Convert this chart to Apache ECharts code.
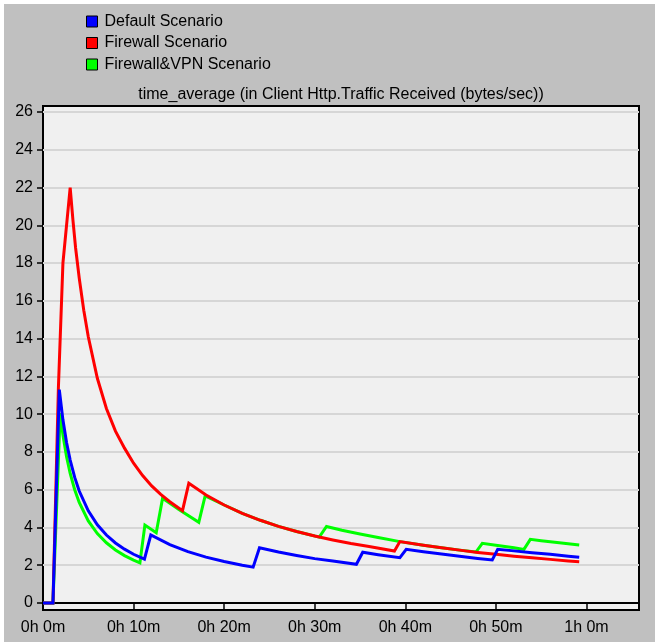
<!DOCTYPE html>
<html>
<head>
<meta charset="utf-8">
<script src="https://cdn.jsdelivr.net/npm/echarts@6/dist/echarts.min.js"></script>
<style>
  html, body { margin: 0; padding: 0; background: #ffffff; }
  #chart { width: 655px; height: 642px; }
</style>
</head>
<body>
<div id="chart"></div>
<script>
// ---- data (x in minutes, y in bytes/sec) ----
const seriesNames = ['Default Scenario', 'Firewall Scenario', 'Firewall&VPN Scenario'];
const seriesColors = ['#0000ff', '#ff0000', '#00ff00'];

const defaultScenario = [
  [0, 0], [1.1, 0], [1.8, 11.3], [2.2, 9.7], [2.6, 8.5], [3.0, 7.57], [3.5, 6.65], [4.0, 5.93],
  [5.0, 4.88], [6.0, 4.14], [7.0, 3.6], [8.0, 3.18], [9.0, 2.85], [10.0, 2.58], [11.2, 2.32],
  [11.9, 3.6], [14, 3.09], [16, 2.72], [18, 2.43], [20, 2.2], [22, 2.0], [23.2, 1.9],
  [23.9, 2.93], [26, 2.7], [28, 2.52], [30, 2.35], [32, 2.22], [34.6, 2.05],
  [35.3, 2.69], [37, 2.56], [39.4, 2.4],
  [40.1, 2.84], [42, 2.71], [44, 2.59], [46, 2.48], [48, 2.36], [49.6, 2.28],
  [50.2, 2.84], [52, 2.76], [54, 2.66], [56, 2.58], [58, 2.48], [59.2, 2.42]
];

const firewallScenario = [
  [0, 0], [1.1, 0], [1.7, 11.4], [2.2, 18.0], [3.0, 22.0], [3.3, 20.3], [3.6, 18.8], [4.0, 17.2],
  [4.5, 15.5], [5.0, 14.1], [6.0, 11.9], [7.0, 10.3], [8.0, 9.1], [9.0, 8.2], [10, 7.4],
  [11, 6.75], [12, 6.2], [13, 5.75], [14, 5.36], [15.4, 4.89],
  [16.1, 6.34], [18, 5.72], [20, 5.19], [22, 4.75], [24, 4.38], [26, 4.06], [28, 3.79],
  [30, 3.55], [32, 3.34], [34, 3.15], [36, 2.99], [38.8, 2.75],
  [39.4, 3.25], [42, 3.06], [44, 2.93], [46, 2.8], [48, 2.68], [50, 2.58], [52, 2.48],
  [54, 2.39], [56, 2.31], [58, 2.23], [59.2, 2.19]
];

const firewallVpnScenario = [
  [0, 0], [1.1, 0], [1.9, 10.05], [2.2, 8.9], [2.6, 7.75], [3.0, 6.86], [3.5, 6.0], [4.0, 5.32],
  [5.0, 4.35], [6.0, 3.68], [7.0, 3.19], [8.0, 2.81], [9.0, 2.51], [10.0, 2.27], [10.7, 2.13],
  [11.25, 4.13], [12.5, 3.72],
  [13.2, 5.54], [15, 4.95], [17.2, 4.27],
  [17.9, 5.67], [20, 5.19], [22, 4.75], [24, 4.38], [26, 4.06], [28, 3.79], [30.5, 3.49],
  [31.3, 4.05], [33, 3.85], [35, 3.65], [37, 3.47], [39.4, 3.25], [42, 3.06], [44, 2.93],
  [46, 2.8], [47.8, 2.7],
  [48.5, 3.16], [50, 3.06], [52, 2.92], [53.1, 2.84],
  [53.8, 3.37], [55, 3.3], [57, 3.19], [59.2, 3.07]
];

const xTickValues = [0, 10, 20, 30, 40, 50, 60];
const xTickLabels = ['0h 0m', '0h 10m', '0h 20m', '0h 30m', '0h 40m', '0h 50m', '1h 0m'];
const chartTitle = 'time_average (in Client Http.Traffic Received (bytes/sec))';

// ---- chart ----
const FONT = '"Liberation Sans", Arial, sans-serif';
const chart = echarts.init(document.getElementById('chart'), null, { renderer: 'canvas' });

const dataBySeries = [defaultScenario, firewallScenario, firewallVpnScenario];
const drawOrder = [2, 1, 0]; // green under red under blue

const option = {
  backgroundColor: '#c0c0c0',
  animation: false,
  textStyle: { fontFamily: FONT },
  legend: {
    data: seriesNames.map((n, i) => ({ name: n, itemStyle: { color: seriesColors[i], borderColor: '#000', borderWidth: 1 } })),
    orient: 'vertical',
    left: 86,
    top: 13,
    padding: 0,
    icon: 'rect',
    itemWidth: 11,
    itemHeight: 11,
    itemGap: 4.5,
    textStyle: { fontFamily: FONT, fontSize: 16, color: '#000', lineHeight: 17, padding: [0, 0, 0, 2] },
    selectedMode: false
  },
  graphic: [
    { type: 'rect', z: -10, shape: { x: 0, y: 0, width: 655, height: 4 }, style: { fill: '#ffffff' } },
    { type: 'rect', z: -10, shape: { x: 0, y: 0, width: 4, height: 642 }, style: { fill: '#ffffff' } },
    { type: 'rect', z: -5, shape: { x: 43, y: 106, width: 596, height: 504 },
      style: { fill: '#f0f0f0', stroke: '#000000', lineWidth: 2 } },
    { type: 'text', z: 10, x: 341, y: 95,
      style: { text: chartTitle, fontFamily: FONT, fontSize: 16, fill: '#000', align: 'center', verticalAlign: 'middle' } }
  ],
  grid: { left: 43, right: 16, top: 112, bottom: 39, containLabel: false },
  xAxis: {
    type: 'value',
    min: 0,
    max: 65.8,
    offset: 7,
    axisLine: { show: true, lineStyle: { color: '#000', width: 2 } },
    axisTick: { show: true, length: 6, customValues: xTickValues, lineStyle: { color: '#000', width: 1.5 } },
    axisLabel: {
      customValues: xTickValues,
      formatter: (v) => { const i = xTickValues.indexOf(v); return i >= 0 ? xTickLabels[i] : ''; },
      fontFamily: FONT, fontSize: 16, color: '#000', margin: 10
    },
    splitLine: { show: false }
  },
  yAxis: {
    type: 'value',
    min: 0,
    max: 26,
    interval: 2,
    axisLine: { show: false },
    axisTick: { show: true, length: 6, lineStyle: { color: '#000', width: 1.5 } },
    axisLabel: { fontFamily: FONT, fontSize: 16, color: '#000', margin: 10 },
    splitLine: { show: true, lineStyle: { color: '#d6d6d6', width: 2 } }
  },
  series: drawOrder.map(i => ({
    name: seriesNames[i],
    type: 'line',
    data: dataBySeries[i],
    showSymbol: false,
    symbol: 'none',
    color: seriesColors[i],
    lineStyle: { color: seriesColors[i], width: 3, join: 'miter' },
    clip: false,
    z: 2 + (2 - i)
  }))
};

chart.setOption(option);
</script>
</body>
</html>
